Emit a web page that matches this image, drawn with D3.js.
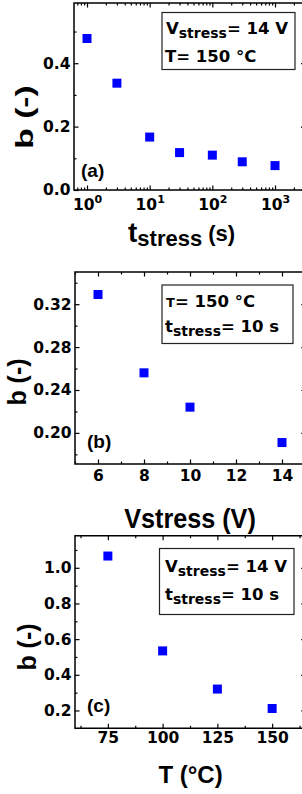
<!DOCTYPE html>
<html lang='en'>
  <head>
    <style type='text/css'>
      body {margin: 0; background-color: #fff; overflow: hidden;}
      svg {display: block;}
      text {font-family: "Liberation Sans", Arial, sans-serif; font-weight: bold; fill: #000;}
      .tick text {font-family: "DejaVu Sans", sans-serif; font-size: 15.5px;}
      .inset text {font-family: "DejaVu Sans", sans-serif; font-size: 16.5px;}
    </style>
  </head>
  <body>
    <svg id='chart' width='302' height='794'></svg>
    <script src='https://d3js.org/d3.v7.min.js'></script>
    <script type='text/javascript'>
        // data
        var tStress      = [1, 3, 10, 30, 100, 300, 1000];
        var bVsTime      = [0.478, 0.337, 0.167, 0.118, 0.110, 0.089, 0.077];
        var vStress      = [6, 8, 10, 14];
        var bVsVoltage   = [0.329, 0.256, 0.224, 0.191];
        var temperature  = [75, 100, 125, 150];
        var bVsTemp      = [1.066, 0.534, 0.320, 0.211];

        // tick labels
        var xTicksA = [1, 10, 100, 1000];
        var yTicksA = [0, 0.2, 0.4];
        var yMinorA = [0.1, 0.3, 0.5];
        var xTicksB = [6, 8, 10, 12, 14];
        var xMinorB = [5, 7, 9, 11, 13, 15];
        var yTicksB = [0.20, 0.24, 0.28, 0.32];
        var yMinorB = [0.18, 0.22, 0.26, 0.30, 0.34];
        var xTicksC = [75, 100, 125, 150];
        var xMinorC = [62.5, 87.5, 112.5, 137.5, 162.5];
        var yTicksC = [0.2, 0.4, 0.6, 0.8, 1.0];
        var yMinorC = [0.3, 0.5, 0.7, 0.9, 1.1];

        var svg = d3.select("#chart");

        // log minor ticks 2..9 per decade
        var xMinorA = [];
        [0.1, 1, 10, 100, 1000].forEach(function(d) {
          for (var k = 2; k < 10; k++) xMinorA.push(d * k);
        });

        function panel(p) {
          var g = svg.append("g");
          var x = p.x, y = p.y;
          var x0 = x.range()[0], x1 = x.range()[1];
          var y0 = y.range()[0], y1 = y.range()[1];

          // major + minor ticks on all four sides, pointing inward
          function ticks(axisFn, scale, pos, vals, size, fmt, pad) {
            var a = axisFn(scale).tickValues(vals.filter(function(v) {
                      var d = scale.domain(); return v >= d[0] && v <= d[1]; }))
                    .tickSize(size).tickPadding(pad || 0);
            a.tickFormat(fmt || "");
            var ag = g.append("g").attr("transform", pos).call(a);
            ag.select(".domain").remove();
            ag.selectAll("line").attr("stroke", "#000").attr("stroke-width", 1.2);
            return ag;
          }
          ticks(d3.axisBottom, x, "translate(0," + y0 + ")", p.xMinor, -2.5);
          ticks(d3.axisTop, x, "translate(0," + y1 + ")", p.xMinor, -2.5);
          ticks(d3.axisTop, x, "translate(0," + y1 + ")", p.xTicks, -4.5);
          ticks(d3.axisLeft, y, "translate(" + x0 + ",0)", p.yMinor, -2.5);
          ticks(d3.axisRight, y, "translate(" + x1 + ",0)", p.yMinor, -4);
          ticks(d3.axisRight, y, "translate(" + x1 + ",0)", p.yTicks, -6);
          var xb = ticks(d3.axisBottom, x, "translate(0," + y0 + ")", p.xTicks, -4.5, p.xFmt, p.xPad);
          ticks(d3.axisLeft, y, "translate(" + x0 + ",0)", p.yTicks, -4.5, p.yFmt, 3.5);
          if (p.logLabels) {
            xb.selectAll(".tick text").text(null).each(function(d) {
              var t = d3.select(this);
              t.append("tspan").text("10");
              t.append("tspan").attr("font-size", "11px").attr("dy", "-0.6em")
                .text(Math.round(Math.log10(d)));
            });
          }

          // frame: top, left, bottom (right side is past the page edge)
          g.append("path")
            .attr("d", "M" + x1 + "," + y1 + "H" + x0 + "V" + y0 + "H" + x1)
            .attr("fill", "none").attr("stroke", "#000").attr("stroke-width", 1.5);

          // points
          g.selectAll(".pt").data(p.xs).enter().append("path")
            .attr("class", "pt")
            .attr("d", d3.symbol(d3.symbolSquare, 81))
            .attr("transform", function(d, i) {
              return "translate(" + x(d) + "," + y(p.ys[i]) + ")";
            })
            .attr("fill", "#0000ff");

          // panel letter
          g.append("text").attr("x", p.tag[0]).attr("y", p.tag[1])
            .attr("font-size", "19px").text(p.tag[2]);

          // y title
          g.append("text")
            .attr("transform", "translate(" + p.yTitle[0] + "," + p.yTitle[1] + ") rotate(-90) scale(" + p.yTitle[3] + ",1)")
            .attr("text-anchor", "middle").attr("font-size", p.yTitle[2])
            .text("b (-)");

          // inset box
          var ins = g.append("g").attr("class", "inset");
          ins.append("rect")
            .attr("x", p.box[0]).attr("y", p.box[1])
            .attr("width", p.box[2] - p.box[0]).attr("height", p.box[3] - p.box[1])
            .attr("fill", "#fff").attr("stroke", "#222").attr("stroke-width", 1.2);
          p.lines.forEach(function(l) {
            var t = ins.append("text").attr("x", l.x).attr("y", l.y);
            l.parts.forEach(function(s) {
              var ts = t.append("tspan").text(s[0]);
              if (s[1]) ts.attr("font-size", s[1]);
              if (s[2]) ts.attr("dy", s[2]);
            });
          });
          return g;
        }

        // (a) b vs stress time
        var ga = panel({
          x: d3.scaleLog().domain([0.62, 3240]).range([74, 307]),
          y: d3.scaleLinear().domain([0, 0.59]).range([190, 3]),
          xs: tStress, ys: bVsTime,
          xTicks: xTicksA, xMinor: xMinorA, yTicks: yTicksA, yMinor: yMinorA,
          xFmt: function(d) { return d; }, xPad: 9, logLabels: true,
          yFmt: d3.format(".1f"),
          tag: [81, 177, "(a)"], yTitle: [33, 117, "24px", 1.4],
          box: [162, 12.5, 295, 69.5],
          lines: [
            {x: 166, y: 33.5, parts: [["V"], ["stress", "14px", "4"], ["= 14 V", "16.5px", "-4"]]},
            {x: 165, y: 61.5, parts: [["T= 150 °C"]]}
          ]
        });
        var tA = ga.append("text").attr("x", 128).attr("y", 242);
        tA.append("tspan").attr("font-size", "28px").text("t");
        tA.append("tspan").attr("font-size", "22px").attr("dy", 4).text("stress");
        tA.append("tspan").attr("font-size", "22px").attr("dy", -5).text(" (s)");

        // (b) b vs stress voltage
        var gb = panel({
          x: d3.scaleLinear().domain([5, 15.1]).range([75, 307.3]),
          y: d3.scaleLinear().domain([0.171, 0.350]).range([464, 272]),
          xs: vStress, ys: bVsVoltage,
          xTicks: xTicksB, xMinor: xMinorB, yTicks: yTicksB, yMinor: yMinorB,
          xFmt: d3.format("d"), xPad: 6,
          yFmt: d3.format(".2f"),
          tag: [87, 448, "(b)"], yTitle: [26, 382, "25px", 1],
          box: [162, 285, 293, 343.5],
          lines: [
            {x: 166, y: 306.5, parts: [["T", "13px"], ["= 150 °C", "16.5px"]]},
            {x: 165, y: 331.5, parts: [["t"], ["stress", "14px", "4"], ["= 10 s", "16.5px", "-4"]]}
          ]
        });
        gb.append("text")
          .attr("transform", "translate(190,528) scale(0.9,1)")
          .attr("text-anchor", "middle").attr("font-size", "28px").text("Vstress (V)");

        // (c) b vs temperature
        var gc = panel({
          x: d3.scaleLinear().domain([60, 166]).range([75, 307.2]),
          y: d3.scaleLinear().domain([0.1, 1.18]).range([728.3, 535.7]),
          xs: temperature, ys: bVsTemp,
          xTicks: xTicksC, xMinor: xMinorC, yTicks: yTicksC, yMinor: yMinorC,
          xFmt: d3.format("d"), xPad: 4,
          yFmt: d3.format(".1f"),
          tag: [87, 712, "(c)"], yTitle: [36, 647, "25px", 1],
          box: [159.5, 548.5, 294, 614.5],
          lines: [
            {x: 165, y: 571.5, parts: [["V"], ["stress", "14px", "4"], ["= 14 V", "16.5px", "-4"]]},
            {x: 165, y: 600, parts: [["t"], ["stress", "14px", "4"], ["= 10 s", "16.5px", "-4"]]}
          ]
        });
        gc.append("text").attr("x", 190.5).attr("y", 783)
          .attr("text-anchor", "middle").attr("font-size", "24px").text("T (°C)");
    </script>
  </body>
</html>
